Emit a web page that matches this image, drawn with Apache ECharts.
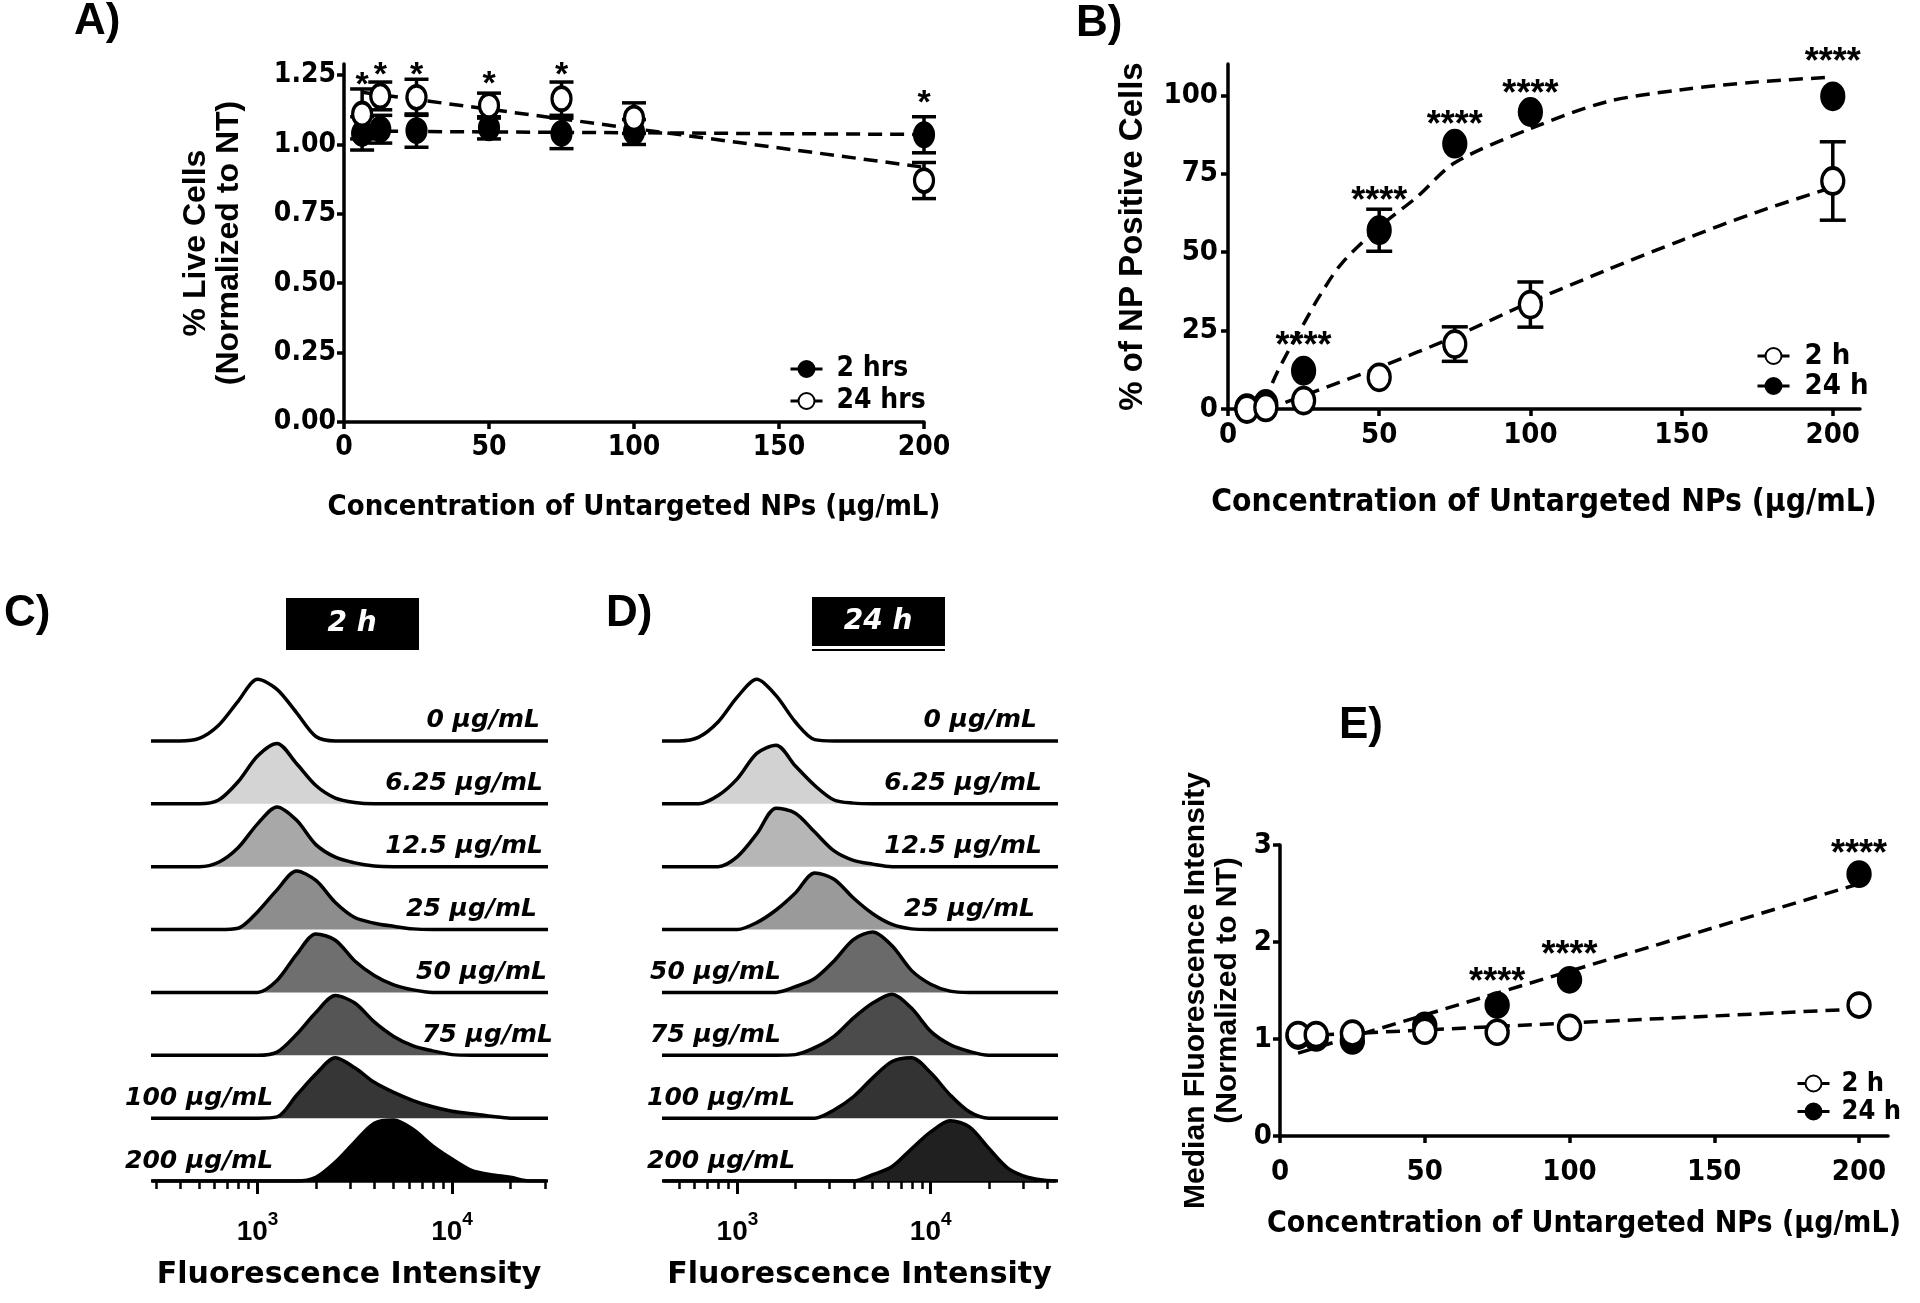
<!DOCTYPE html>
<html>
<head>
<meta charset="utf-8">
<script src="https://cdn.jsdelivr.net/npm/echarts@6/dist/echarts.min.js"></script>
<style>
html, body { margin: 0; padding: 0; background: #fff; }
#main { width: 1920px; height: 1303px; }
</style>
</head>
<body>
<div id="main"></div>
<script>
// ---- data ----
var conc = [6.25, 12.5, 25, 50, 75, 100, 200];

// A) viability, normalized to NT
var live2h = [1.04, 1.055, 1.05, 1.06, 1.04, 1.045, 1.035];
var live2hErr = [0.06, 0.05, 0.06, 0.04, 0.055, 0.045, 0.065];
var live24h = [1.11, 1.175, 1.17, 1.14, 1.165, 1.095, 0.87];
var live24hErr = [0.09, 0.05, 0.065, 0.045, 0.06, 0.055, 0.065];
var fitA2hX = [6.25, 200], fitA2hY = [1.048, 1.036];
var fitA24hX = [6.25, 200], fitA24hY = [1.188, 0.918];
var starsA = [[6.25, 1.238], [12.5, 1.276], [25, 1.276], [50, 1.244], [75, 1.276], [200, 1.173]];

// B) % NP positive cells
var pos2h = [0, 0.5, 2.7, 10.1, 20.7, 33.3, 72.7];
var pos2hErr = [0, 0, 0, 0, 5.5, 7.2, 12.5];
var pos24h = [0.3, 1.6, 12.2, 57.0, 84.6, 94.7, 99.7];
var pos24hErr = [0, 0, 0, 6.7, 0, 0, 0];
var fitB2hX = [19, 50, 75, 100, 125, 150, 175, 200];
var fitB2hY = [2.1, 13.3, 23.1, 34.1, 44.2, 53.8, 62.8, 70.7];
var fitB24hX = [12.5, 15, 20, 25, 30, 37.5, 50, 62.5, 75, 100, 125, 150, 175, 200];
var fitB24hY = [1.5, 9, 18.6, 27.1, 35.6, 46.3, 58, 67.6, 78.5, 89.4, 97.9, 101.8, 104.3, 105.8];
var starsB = [[25, 22.3], [50, 68.6], [75, 92.6], [100, 102.7], [200, 112.8]];

// E) median fluorescence intensity, normalized to NT
var mfi2h = [1.045, 1.045, 1.06, 1.08, 1.07, 1.12, 1.35];
var mfi24h = [1.03, 1.01, 0.98, 1.14, 1.35, 1.61, 2.70];
var fitE2hX = [6.25, 200], fitE2hY = [1.03, 1.31];
var fitE24hX = [6.25, 200], fitE24hY = [0.854, 2.60];
var starsE = [[75, 1.66], [100, 1.94], [200, 2.98]];

// C/D) histograms: bin centres (fluorescence) and normalized counts per row
var bins = [251, 316, 398, 501, 631, 794, 1000, 1259, 1585, 1995, 2512, 3162,
            3981, 5012, 6310, 7943, 10000, 12589, 15849, 19953, 25119, 31623, 39811, 50119];
var concLabels = ['0 μg/mL', '6.25 μg/mL', '12.5 μg/mL', '25 μg/mL',
                  '50 μg/mL', '75 μg/mL', '100 μg/mL', '200 μg/mL'];
var hist2h = [
  [0, 0, 0, 0.04, 0.25, 0.63, 0.98, 0.82, 0.45, 0.07, 0, 0, 0, 0, 0, 0, 0, 0, 0, 0, 0, 0, 0, 0],
  [0, 0, 0, 0, 0.06, 0.35, 0.76, 0.96, 0.64, 0.29, 0.09, 0.02, 0, 0, 0, 0, 0, 0, 0, 0, 0, 0, 0, 0],
  [0, 0, 0, 0, 0.07, 0.30, 0.68, 0.95, 0.74, 0.35, 0.15, 0.06, 0.01, 0, 0, 0, 0, 0, 0, 0, 0, 0, 0, 0],
  [0, 0, 0, 0, 0, 0.02, 0.28, 0.63, 0.93, 0.78, 0.43, 0.19, 0.10, 0.05, 0.01, 0, 0, 0, 0, 0, 0, 0, 0, 0],
  [0, 0, 0, 0, 0, 0, 0, 0.19, 0.60, 0.93, 0.83, 0.50, 0.27, 0.12, 0.04, 0, 0, 0, 0, 0, 0, 0, 0, 0],
  [0, 0, 0, 0, 0, 0, 0, 0.05, 0.33, 0.68, 0.95, 0.83, 0.53, 0.30, 0.15, 0.07, 0.01, 0, 0, 0, 0, 0, 0, 0],
  [0, 0, 0, 0, 0, 0, 0, 0.02, 0.36, 0.70, 0.96, 0.80, 0.57, 0.41, 0.28, 0.18, 0.11, 0.07, 0.03, 0, 0, 0, 0, 0],
  [0, 0, 0, 0, 0, 0, 0, 0, 0, 0.06, 0.30, 0.62, 0.92, 0.97, 0.82, 0.56, 0.35, 0.17, 0.10, 0.06, 0, 0, 0, 0]
];
var hist24h = [
  [0, 0, 0, 0, 0.06, 0.30, 0.70, 0.98, 0.72, 0.30, 0.02, 0, 0, 0, 0, 0, 0, 0, 0, 0, 0, 0, 0, 0],
  [0, 0, 0, 0, 0, 0.13, 0.40, 0.80, 0.93, 0.60, 0.29, 0.06, 0.01, 0, 0, 0, 0, 0, 0, 0, 0, 0, 0, 0],
  [0, 0, 0, 0, 0, 0, 0.16, 0.52, 0.93, 0.85, 0.55, 0.25, 0.10, 0.04, 0, 0, 0, 0, 0, 0, 0, 0, 0, 0],
  [0, 0, 0, 0, 0, 0, 0, 0.11, 0.31, 0.58, 0.90, 0.80, 0.50, 0.25, 0.08, 0.01, 0, 0, 0, 0, 0, 0, 0, 0],
  [0, 0, 0, 0, 0, 0, 0, 0, 0, 0.09, 0.22, 0.50, 0.84, 0.96, 0.74, 0.35, 0.13, 0.02, 0, 0, 0, 0, 0, 0],
  [0, 0, 0, 0, 0, 0, 0, 0, 0, 0.01, 0.12, 0.30, 0.59, 0.83, 0.97, 0.75, 0.38, 0.17, 0.06, 0, 0, 0, 0, 0],
  [0, 0, 0, 0, 0, 0, 0, 0, 0, 0, 0, 0.13, 0.34, 0.64, 0.90, 0.96, 0.72, 0.37, 0.10, 0, 0, 0, 0, 0],
  [0, 0, 0, 0, 0, 0, 0, 0, 0, 0, 0, 0, 0, 0.10, 0.23, 0.51, 0.78, 0.96, 0.86, 0.52, 0.20, 0.06, 0.01, 0]
];
var fill2h = ['#ffffff', '#d4d4d4', '#a8a8a8', '#8d8d8d', '#6f6f6f', '#555555', '#363636', '#000000'];
var fill24h = ['#ffffff', '#d2d2d2', '#b6b6b6', '#9a9a9a', '#6a6a6a', '#4b4b4b', '#333333', '#202020'];

var minorTicks = [300, 400, 500, 600, 700, 800, 900, 2000, 3000, 4000, 5000, 6000, 7000, 8000, 9000, 20000, 30000, 40000];
var majorTicks = [1000, 10000];

// ---- layout ----
var COND = "'DejaVu Sans Condensed','Liberation Sans Narrow','Liberation Sans',sans-serif";
var SANS = "'Liberation Sans',Arial,sans-serif";
var HEAVY = "'DejaVu Sans',sans-serif";

var gA = { left: 344, top: 64, width: 580, height: 358 };
var gB = { left: 1228, top: 64, width: 632, height: 345 };
var gC = { left: 153, top: 678, width: 392, height: 503 };
var gD = { left: 664, top: 678, width: 391, height: 503 };
var gE = { left: 1280, top: 845, width: 608, height: 291 };
var rowH = gC.height / 8;

var axLine = { show: true, onZero: false, lineStyle: { color: '#000', width: 3.5 } };
function ticks(vals, len) {
    return { show: true, length: len || 7, customValues: vals, lineStyle: { color: '#000', width: 3.5 } };
}
function labels(vals, size, margin, fmt) {
    return { show: true, customValues: vals, color: '#000', fontFamily: COND, fontWeight: 'bold',
             fontSize: size, margin: margin, formatter: fmt };
}
function nameStyle(font, size, lh) {
    return { fontFamily: font, fontWeight: 'bold', fontSize: size, lineHeight: lh || size, color: '#000' };
}

// error bars drawn through the axis scale
function errorSeries(xi, yi, ys, es, cap) {
    var d = [];
    conc.forEach(function (x, k) { if (es[k] > 0) d.push([x, ys[k], es[k]]); });
    return {
        type: 'custom', xAxisIndex: xi, yAxisIndex: yi, z: 3, silent: true, data: d,
        encode: { x: 0, y: 1 },
        renderItem: function (params, api) {
            var x = api.value(0), y = api.value(1), e = api.value(2);
            var t = api.coord([x, y + e]), b = api.coord([x, y - e]);
            var st = { stroke: '#000', lineWidth: 3.5 };
            return { type: 'group', children: [
                { type: 'line', shape: { x1: t[0], y1: t[1], x2: b[0], y2: b[1] }, style: st },
                { type: 'line', shape: { x1: t[0] - cap, y1: t[1], x2: t[0] + cap, y2: t[1] }, style: st },
                { type: 'line', shape: { x1: b[0] - cap, y1: b[1], x2: b[0] + cap, y2: b[1] }, style: st }
            ] };
        }
    };
}

function markerSeries(name, xi, yi, ys, filled, size, z) {
    return {
        name: name, type: 'line', xAxisIndex: xi, yAxisIndex: yi, z: z,
        data: conc.map(function (x, k) { return [x, ys[k]]; }),
        symbol: 'circle', symbolSize: size, showSymbol: true, showAllSymbol: true,
        lineStyle: { opacity: 0 },
        itemStyle: { color: filled ? '#000' : '#fff', borderColor: '#000', borderWidth: 3.5 },
        emphasis: { disabled: true }
    };
}

function fitSeries(xi, yi, xs, ys, smooth) {
    return {
        type: 'line', xAxisIndex: xi, yAxisIndex: yi, z: 2, silent: true,
        data: xs.map(function (x, k) { return [x, ys[k]]; }),
        symbol: 'none', smooth: smooth || false,
        lineStyle: { color: '#000', width: 3.5, type: [14, 8] }
    };
}

function starSeries(xi, yi, pts, text, size) {
    return {
        type: 'custom', xAxisIndex: xi, yAxisIndex: yi, z: 6, silent: true, data: pts,
        encode: { x: 0, y: 1 },
        renderItem: function (params, api) {
            var p = api.coord([api.value(0), api.value(1)]);
            return { type: 'text', x: p[0], y: p[1] + size * 0.22,
                     style: { text: text, fill: '#000', font: 'bold ' + size + 'px ' + SANS,
                              align: 'center', verticalAlign: 'middle' } };
        }
    };
}

function histSeries(rows, colors, xi, yi) {
    return rows.map(function (h, i) {
        var off = rows.length - 1 - i;
        return {
            type: 'line', xAxisIndex: xi, yAxisIndex: yi, z: 2, silent: true,
            data: bins.map(function (b, k) { return [b, off + h[k]]; }),
            symbol: 'none', smooth: 0.3,
            lineStyle: { color: '#000', width: 3.5 },
            areaStyle: { color: colors[i], origin: off, opacity: 1 }
        };
    });
}

function histAxes(gi, lo, hi) {
    return [{
        type: 'log', gridIndex: gi, min: lo, max: hi, position: 'bottom',
        axisLine: { show: true, lineStyle: { color: '#000', width: 3.5 } },
        axisTick: { show: true, length: 8, customValues: minorTicks, lineStyle: { color: '#000', width: 2.5 } },
        axisLabel: { show: false }, splitLine: { show: false }, minorTick: { show: false },
        name: 'Fluorescence Intensity', nameLocation: 'middle', nameGap: 79,
        nameTextStyle: nameStyle(HEAVY, 30)
    }, {
        type: 'log', gridIndex: gi, min: lo, max: hi, position: 'bottom', offset: 0,
        axisLine: { show: false },
        axisTick: { show: true, length: 13, customValues: majorTicks, lineStyle: { color: '#000', width: 3 } },
        axisLabel: {
            show: true, customValues: majorTicks, margin: 29,
            formatter: function (v) { return '{b|10}{s|' + Math.round(Math.log(v) / Math.LN10) + '}'; },
            rich: {
                b: { fontFamily: SANS, fontWeight: 'bold', fontSize: 28, color: '#000', lineHeight: 36, verticalAlign: 'bottom' },
                s: { fontFamily: SANS, fontWeight: 'bold', fontSize: 19, color: '#000', lineHeight: 36, verticalAlign: 'top' }
            }
        },
        splitLine: { show: false }
    }];
}

function rowLabels(g, sides, xs) {
    return concLabels.map(function (t, i) {
        var base = g.top + (i + 1) * rowH;
        return { type: 'text', x: xs[i], y: base - 20, z: 50,
                 style: { text: t, fill: '#000', font: 'italic bold 25px ' + HEAVY,
                          align: sides[i], verticalAlign: 'middle' } };
    });
}

function legend(names, left, top, size, lh, gap, pad) {
    return { data: names, orient: 'vertical', left: left, top: top, padding: 0, itemGap: gap,
             itemWidth: 32, itemHeight: 20, selectedMode: false,
             textStyle: { fontFamily: COND, fontWeight: 'bold', fontSize: size, lineHeight: lh,
                          color: '#000', padding: [0, 0, 0, pad] },
             lineStyle: { color: '#000', width: 3, opacity: 1 } };
}

var xC = histAxes(2, 290, 30060);
var xD = histAxes(3, 417, 43950);
var concName = 'Concentration of Untargeted NPs (μg/mL)';

var myChart = echarts.init(document.getElementById('main'));
var option = {
    animation: false,
    backgroundColor: '#fff',
    textStyle: { fontFamily: SANS, color: '#000' },
    grid: [
        { left: gA.left, top: gA.top, width: gA.width, height: gA.height, outerBoundsMode: 'none' },
        { left: gB.left, top: gB.top, width: gB.width, height: gB.height, outerBoundsMode: 'none' },
        { left: gC.left, top: gC.top, width: gC.width, height: gC.height, outerBoundsMode: 'none' },
        { left: gD.left, top: gD.top, width: gD.width, height: gD.height, outerBoundsMode: 'none' },
        { left: gE.left, top: gE.top, width: gE.width, height: gE.height, outerBoundsMode: 'none' }
    ],
    xAxis: [
        { type: 'value', gridIndex: 0, min: 0, max: 200, axisLine: axLine, splitLine: { show: false },
          axisTick: ticks([0, 50, 100, 150, 200]), axisLabel: labels([0, 50, 100, 150, 200], 28, 12),
          name: concName, nameLocation: 'middle', nameGap: 71, nameTextStyle: nameStyle(COND, 29) },
        { type: 'value', gridIndex: 1, min: 0, max: 209, axisLine: axLine, splitLine: { show: false },
          axisTick: ticks([0, 50, 100, 150, 200]), axisLabel: labels([0, 50, 100, 150, 200], 29, 12),
          name: concName, nameLocation: 'middle', nameGap: 78, nameTextStyle: nameStyle(COND, 31.5) },
        xC[0], xC[1], xD[0], xD[1],
        { type: 'value', gridIndex: 4, min: 0, max: 210, axisLine: axLine, splitLine: { show: false },
          axisTick: ticks([0, 50, 100, 150, 200]), axisLabel: labels([0, 50, 100, 150, 200], 29, 22),
          name: concName, nameLocation: 'middle', nameGap: 73, nameTextStyle: nameStyle(COND, 30) }
    ],
    yAxis: [
        { type: 'value', gridIndex: 0, min: 0, max: 1.29, axisLine: axLine, splitLine: { show: false },
          axisTick: ticks([0, 0.25, 0.5, 0.75, 1, 1.25]),
          axisLabel: labels([0, 0.25, 0.5, 0.75, 1, 1.25], 28, 8, function (v) { return v.toFixed(2); }),
          name: '% Live Cells\n(Normalized to NT)', nameLocation: 'middle', nameGap: 98,
          nameTextStyle: nameStyle(SANS, 32, 33) },
        { type: 'value', gridIndex: 1, min: 0, max: 110, axisLine: axLine, splitLine: { show: false },
          axisTick: ticks([0, 25, 50, 75, 100]), axisLabel: labels([0, 25, 50, 75, 100], 29, 10),
          name: '% of NP Positive Cells', nameLocation: 'middle', nameGap: 79,
          nameTextStyle: nameStyle(SANS, 33) },
        { type: 'value', gridIndex: 2, min: 0, max: 8, show: false },
        { type: 'value', gridIndex: 3, min: 0, max: 8, show: false },
        { type: 'value', gridIndex: 4, min: 0, max: 3, interval: 1, axisLine: axLine, splitLine: { show: false },
          axisTick: ticks([0, 1, 2, 3]), axisLabel: labels([0, 1, 2, 3], 29, 8),
          name: 'Median Fluorescence Intensity\n(Normalized to NT)', nameLocation: 'middle', nameGap: 36,
          nameTextStyle: nameStyle(SANS, 30, 32) }
    ],
    legend: [
        legend(['2 hrs', '24 hrs'], 789, 354, 28, 30, 2, 9),
        legend(['2 h', '24 h'], 1756, 341, 29, 30, 0, 10),
        legend(['2 h', '24 h'], 1796, 1070, 27, 27, 1, 7)
    ],
    graphic: [
        { type: 'text', x: 74, y: 22, style: { text: 'A)', font: 'bold 44px ' + SANS, fill: '#000', verticalAlign: 'middle' } },
        { type: 'text', x: 1076, y: 24, style: { text: 'B)', font: 'bold 44px ' + SANS, fill: '#000', verticalAlign: 'middle' } },
        { type: 'text', x: 4, y: 614, style: { text: 'C)', font: 'bold 44px ' + SANS, fill: '#000', verticalAlign: 'middle' } },
        { type: 'text', x: 606, y: 614, style: { text: 'D)', font: 'bold 44px ' + SANS, fill: '#000', verticalAlign: 'middle' } },
        { type: 'text', x: 1339, y: 726, style: { text: 'E)', font: 'bold 44px ' + SANS, fill: '#000', verticalAlign: 'middle' } },
        { type: 'rect', shape: { x: 286, y: 598, width: 133, height: 52 }, style: { fill: '#000' } },
        { type: 'text', x: 352, y: 624, style: { text: '2 h', font: 'italic bold 28px ' + HEAVY, fill: '#fff', align: 'center', verticalAlign: 'middle' } },
        { type: 'rect', shape: { x: 812, y: 597, width: 133, height: 49 }, style: { fill: '#000' } },
        { type: 'line', shape: { x1: 812, y1: 650, x2: 945, y2: 650 }, style: { stroke: '#000', lineWidth: 2 } },
        { type: 'text', x: 878, y: 622, style: { text: '24 h', font: 'italic bold 28px ' + HEAVY, fill: '#fff', align: 'center', verticalAlign: 'middle' } }
    ].concat(
        rowLabels(gC, ['right', 'right', 'right', 'right', 'right', 'right', 'left', 'left'],
                  [540, 543, 543, 537, 547, 553, 125, 125]),
        rowLabels(gD, ['right', 'right', 'right', 'right', 'left', 'left', 'left', 'left'],
                  [1037, 1042, 1042, 1035, 650, 650, 647, 647])
    ),
    series: [
        // A
        fitSeries(0, 0, fitA2hX, fitA2hY),
        fitSeries(0, 0, fitA24hX, fitA24hY),
        errorSeries(0, 0, live2h, live2hErr, 12),
        errorSeries(0, 0, live24h, live24hErr, 12),
        markerSeries('2 hrs', 0, 0, live2h, true, [19, 23], 4),
        markerSeries('24 hrs', 0, 0, live24h, false, [19, 23], 5),
        starSeries(0, 0, starsA, '*', 34),
        // B
        fitSeries(1, 1, fitB2hX, fitB2hY, 0.3),
        fitSeries(1, 1, fitB24hX, fitB24hY, 0.3),
        errorSeries(1, 1, pos2h, pos2hErr, 13),
        errorSeries(1, 1, pos24h, pos24hErr, 13),
        markerSeries('24 h', 1, 1, pos24h, true, [22, 26], 4),
        markerSeries('2 h', 1, 1, pos2h, false, [22, 26], 5),
        starSeries(1, 1, starsB, '****', 36),
        // E
        fitSeries(6, 4, fitE2hX, fitE2hY),
        fitSeries(6, 4, fitE24hX, fitE24hY),
        markerSeries('24 h', 6, 4, mfi24h, true, [22, 24], 4),
        markerSeries('2 h', 6, 4, mfi2h, false, [22, 24], 5),
        starSeries(6, 4, starsE, '****', 36)
    ].concat(
        histSeries(hist2h, fill2h, 2, 2),
        histSeries(hist24h, fill24h, 4, 3)
    )
};

myChart.setOption(option);
</script>
</body>
</html>
